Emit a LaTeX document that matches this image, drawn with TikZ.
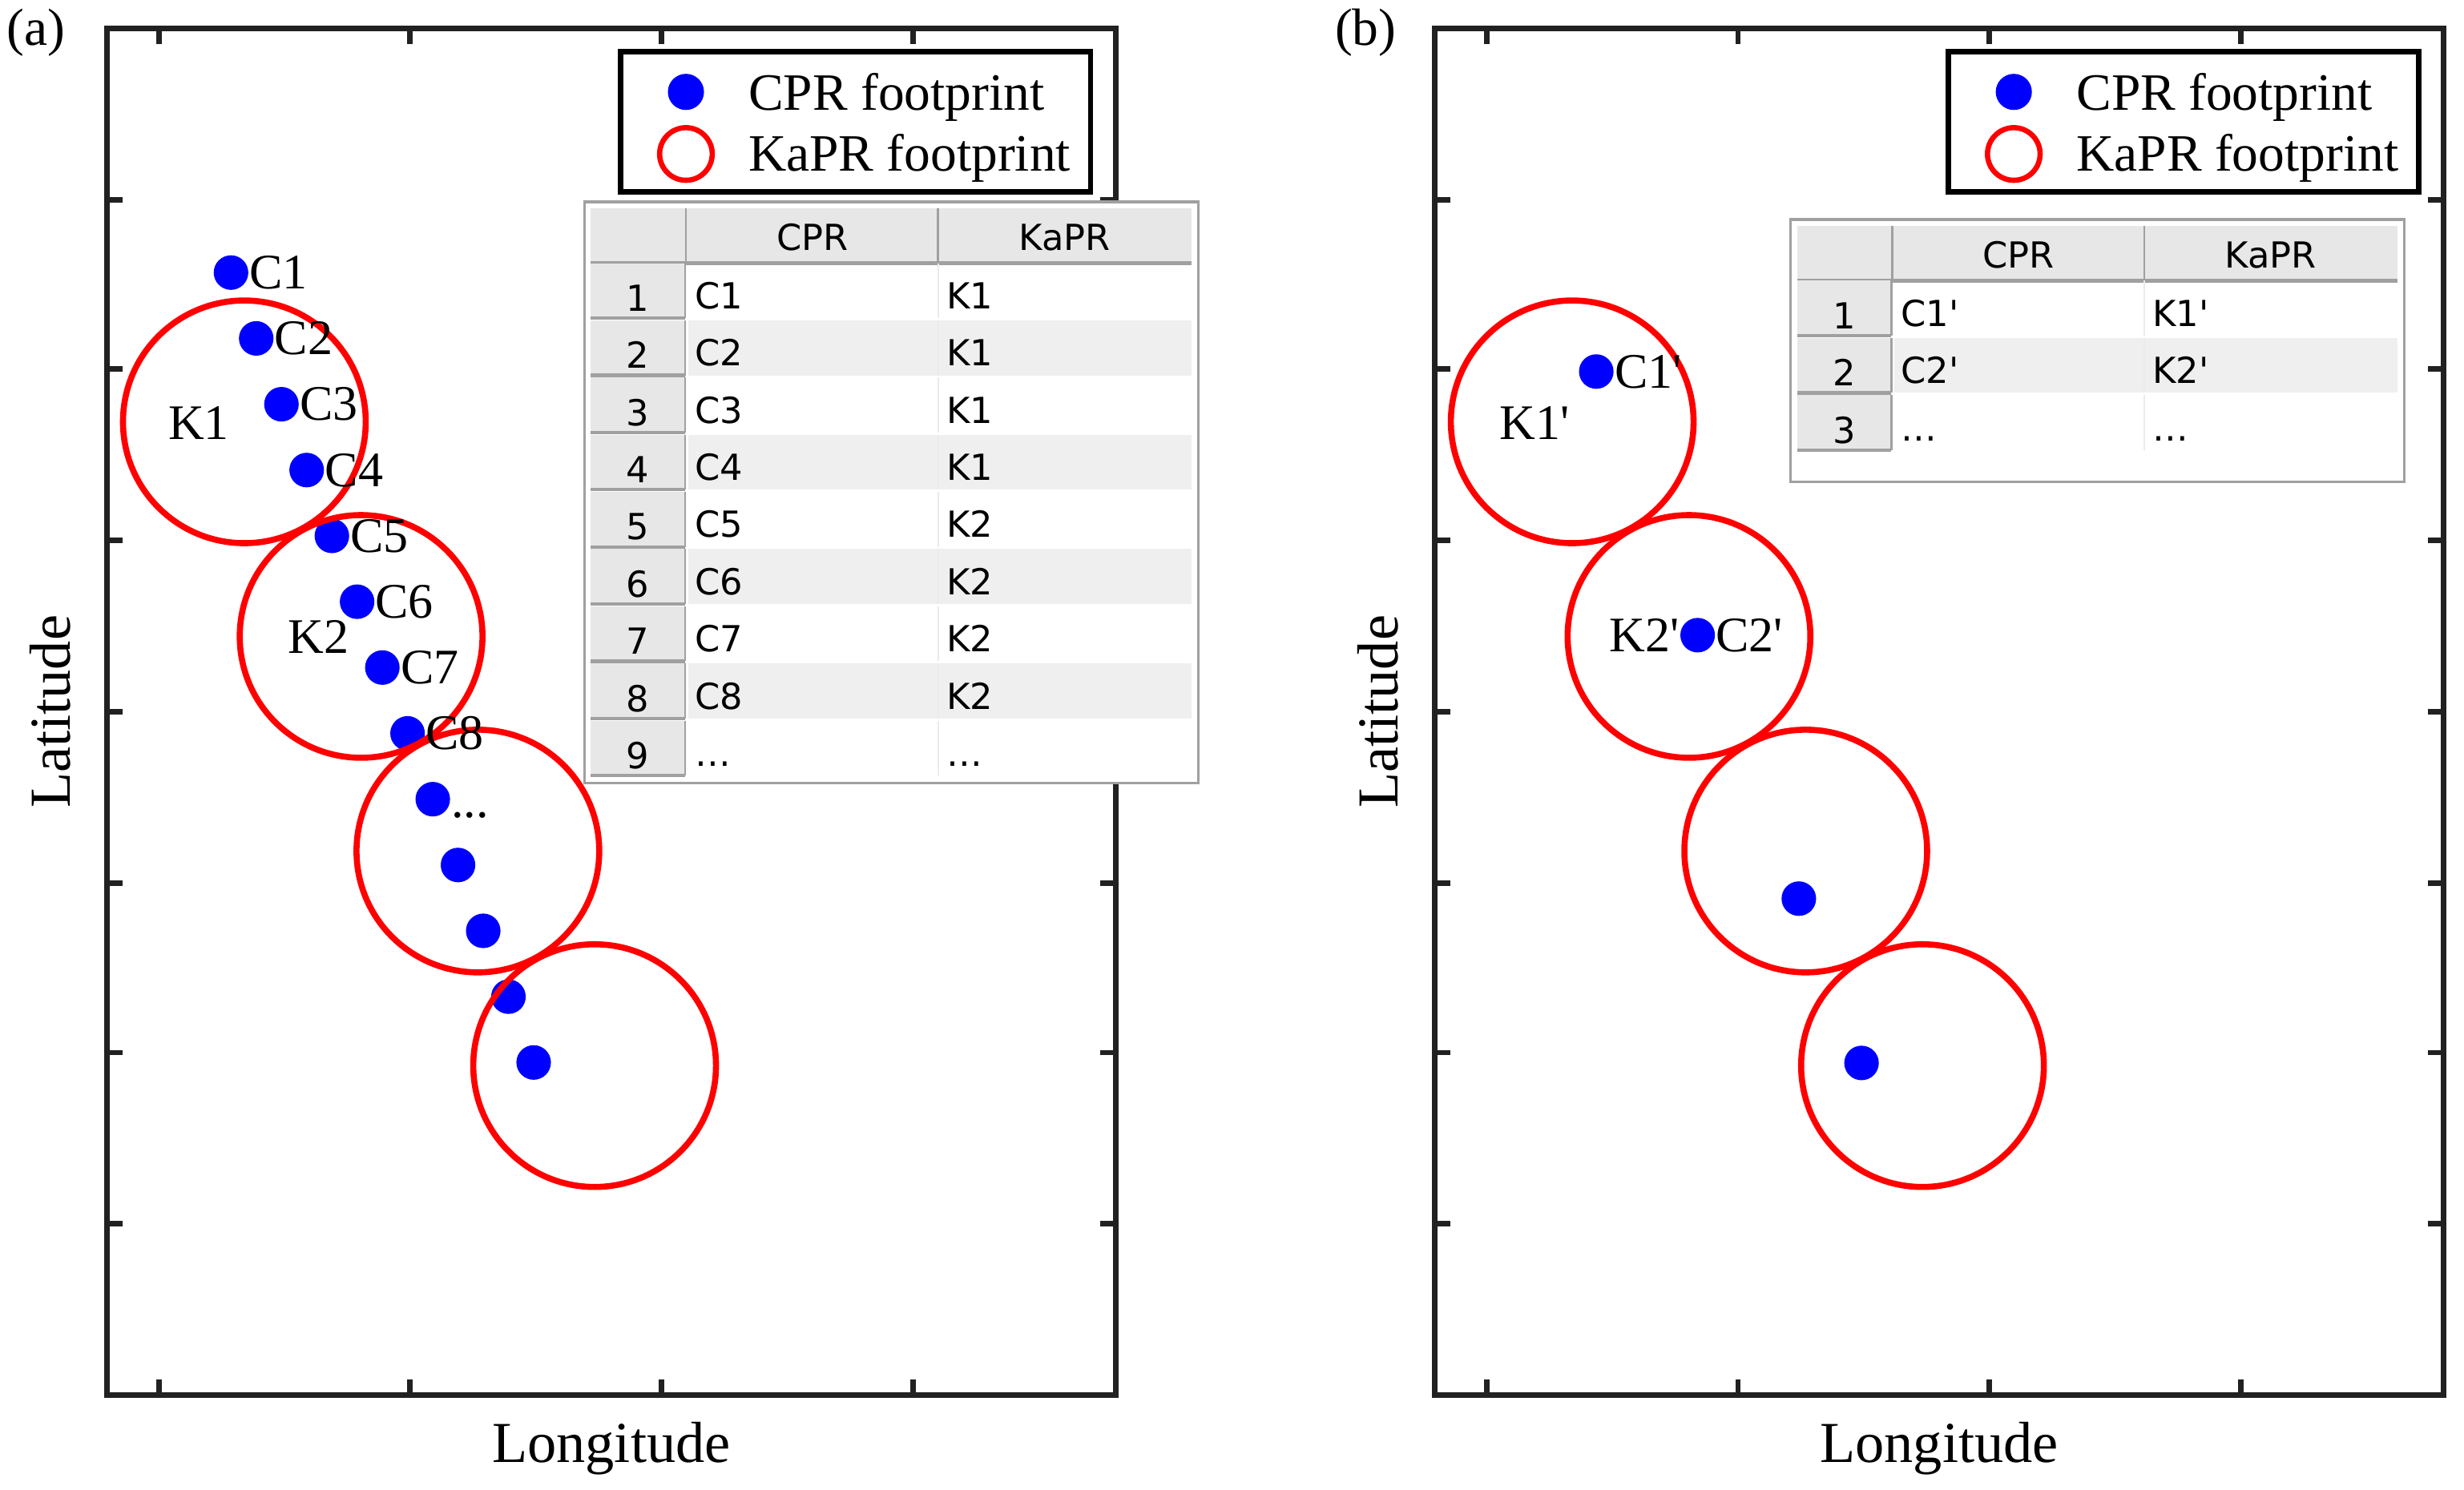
\documentclass[tikz,border=0pt]{standalone}
\usepackage{fontspec}
\setmainfont{Liberation Serif}
\newfontfamily\tabfont{DejaVu Sans}
\usetikzlibrary{positioning}
\definecolor{cellgray}{HTML}{EFEFEF}
\definecolor{headgray}{HTML}{E7E7E7}
\definecolor{rulegray}{HTML}{A0A0A0}
\tikzset{
	cpr/.style = {circle, fill=blue, inner sep=0pt, minimum size=0.44cm},% CPR footprint
	kapr/.style = {circle, draw=red, line width=2.2pt, inner sep=0pt,
		minimum size=3.09cm},% KaPR footprint
	lab/.style = {inner sep=0pt, font=\fontsize{18}{21}\selectfont},% labels in the plot
	leg_txt/.style = {inner sep=0pt, anchor=base west,
		font=\fontsize{19}{22}\selectfont},% legend entries
	ax_txt/.style = {inner sep=0pt, font=\fontsize{21}{24}\selectfont},% axis titles
	ax_frame/.style = {line width=2pt, draw=black!87},
	tab_txt/.style = {inner sep=0pt, anchor=base,
		font=\tabfont\fontsize{13}{15}\selectfont}% table cells
}

\begin{document}
\begin{tikzpicture}[x=0.02cm, y=-0.02cm]
\useasboundingbox (0,0) rectangle (1568,948);

%%% panel (a)
\node[ax_txt, font=\fontsize{19}{22}\selectfont] (pa) at (23,21) {(a)};
\draw[ax_frame] (68,18) rectangle (710,888);
\foreach \x in {101,261,421,581} {
	\draw[ax_frame] (\x,18) -- ++(0,10);
	\draw[ax_frame] (\x,888) -- ++(0,-10);
}
\foreach \y in {127,235,344,453,562,670,779} {
	\draw[ax_frame] (68,\y) -- ++(10,0);
	\draw[ax_frame] (710,\y) -- ++(-10,0);
}
\node[ax_txt, rotate=90] (lat-a) at (32,453) {Latitude};
\node[ax_txt] (lon-a) at (389,922) {Longitude};

% CPR footprints
\foreach \i in {1,...,13}
	\node[cpr] (a\i) at ({147+16.05*(\i-1)},{173.5+41.9*(\i-1)}) {};
% KaPR footprints
\foreach \i in {1,...,4}
	\node[kapr] (ka\i) at ({155.5+74.3*(\i-1)},{268.5+136.6*(\i-1)}) {};
\foreach \i in {1,...,8}
	\node[lab, right=0pt of a\i] (la\i) {C\i};
\node[lab, anchor=base west] (la9) at ([yshift=-0.234cm]a9.east) {...};
\node[lab] (lk1) at (126.5,269) {K1};
\node[lab] (lk2) at (202.5,405.5) {K2};

% legend
\draw[line width=2pt, fill=white] (395,33) rectangle (694,122);
\node[cpr, minimum size=0.46cm] (lega-dot) at (436.5,58.5) {};
\node[kapr, minimum size=0.67cm, line width=1.9pt] (lega-ring) at (436.5,98) {};
\node[leg_txt] (lega-c) at (476,70) {CPR footprint};
\node[leg_txt] (lega-k) at (476,109) {KaPR footprint};

% table
\begin{scope}[shift={(372,128.5)}]
\draw[draw=rulegray, line width=1pt, fill=white] (0,0) rectangle (390.5,370);
\fill[headgray] (4,4) rectangle (386,39.8);
\draw[rulegray, line width=1.2pt] (4,39) -- (386,39);
\draw[rulegray, line width=0.8pt] (64.5,4) -- (64.5,39) (225,4) -- (225,39);
\node[tab_txt] (ta-hc) at (145,31) {CPR};
\node[tab_txt] (ta-hk) at (305.5,31) {KaPR};
\foreach \r/\cpname/\kaname in {1/C1/K1,2/C2/K1,3/C3/K1,4/C4/K1,5/C5/K2,
		6/C6/K2,7/C7/K2,8/C8/K2,9/\ldots/\ldots} {
	\pgfmathsetmacro\yb{74+36.4*(\r-1)}
	\pgfmathsetmacro\yt{\yb-35}
	\ifodd\r \else \fill[cellgray] (66,\yt) rectangle (386,\yb); \fi
	\fill[headgray] (4,\yt) rectangle (64,\yb);
	\draw[rulegray, line width=1.2pt] (4,\yb) -- (64,\yb);
	\draw[rulegray, line width=0.8pt] (64,\yt) -- (64,\yb);
	\draw[black!8, line width=0.5pt] (225,\yt) -- (225,\yb);
	\node[tab_txt] (ta-n\r) at (34,\yb-4.5) {\r};
	\node[tab_txt, anchor=base west] (ta-c\r) at (70,\yb-6) {\cpname};
	\node[tab_txt, anchor=base west] (ta-k\r) at (230,\yb-6) {\kaname};
}
\end{scope}

%%% panel (b)
\node[ax_txt, font=\fontsize{19}{22}\selectfont] (pb) at (869,21) {(b)};
\draw[ax_frame] (913,18) rectangle (1555,888);
\foreach \x in {946,1106,1266,1426} {
	\draw[ax_frame] (\x,18) -- ++(0,10);
	\draw[ax_frame] (\x,888) -- ++(0,-10);
}
\foreach \y in {127,235,344,453,562,670,779} {
	\draw[ax_frame] (913,\y) -- ++(10,0);
	\draw[ax_frame] (1555,\y) -- ++(-10,0);
}
\node[ax_txt, rotate=90] (lat-b) at (877,453) {Latitude};
\node[ax_txt] (lon-b) at (1234,922) {Longitude};

% CPR footprints
\node[cpr] (b1) at (1015.8,236.5) {};
\node[cpr] (b2) at (1080.3,404.3) {};
\node[cpr] (b3) at (1144.7,572) {};
\node[cpr] (b4) at (1184.6,676.6) {};
% KaPR footprints
\foreach \i in {1,...,4}
	\node[kapr] (kb\i) at ({1000.5+74.3*(\i-1)},{268.5+136.6*(\i-1)}) {};
\node[lab, right=0pt of b1] (lb1) {C1\textquotesingle};
\node[lab, right=0pt of b2] (lb2) {C2\textquotesingle};
\node[lab] (lkb1) at (976.7,269) {K1\textquotesingle};
\node[lab, left=0pt of b2] (lkb2) {K2\textquotesingle};

% legend
\draw[line width=2pt, fill=white] (1240,33) rectangle (1539,122);
\node[cpr, minimum size=0.46cm] (legb-dot) at (1281.5,58.5) {};
\node[kapr, minimum size=0.67cm, line width=1.9pt] (legb-ring) at (1281.5,98) {};
\node[leg_txt] (legb-c) at (1321,70) {CPR footprint};
\node[leg_txt] (legb-k) at (1321,109) {KaPR footprint};

% table
\begin{scope}[shift={(1139.5,139.7)}]
\draw[draw=rulegray, line width=1pt, fill=white] (0,0) rectangle (390.5,167);
\fill[headgray] (4,4) rectangle (386,39.8);
\draw[rulegray, line width=1.2pt] (4,39) -- (386,39);
\draw[rulegray, line width=0.8pt] (64.5,4) -- (64.5,39) (225,4) -- (225,39);
\node[tab_txt] (tb-hc) at (145,31) {CPR};
\node[tab_txt] (tb-hk) at (305.5,31) {KaPR};
\foreach \r/\cpname/\kaname in {1/C1\textquotesingle/K1\textquotesingle,
		2/C2\textquotesingle/K2\textquotesingle,3/\ldots/\ldots} {
	\pgfmathsetmacro\yb{74+36.4*(\r-1)}
	\pgfmathsetmacro\yt{\yb-35}
	\ifodd\r \else \fill[cellgray] (66,\yt) rectangle (386,\yb); \fi
	\fill[headgray] (4,\yt) rectangle (64,\yb);
	\draw[rulegray, line width=1.2pt] (4,\yb) -- (64,\yb);
	\draw[rulegray, line width=0.8pt] (64,\yt) -- (64,\yb);
	\draw[black!8, line width=0.5pt] (225,\yt) -- (225,\yb);
	\node[tab_txt] (tb-n\r) at (34,\yb-4.5) {\r};
	\node[tab_txt, anchor=base west] (tb-c\r) at (70,\yb-6) {\cpname};
	\node[tab_txt, anchor=base west] (tb-k\r) at (230,\yb-6) {\kaname};
}
\end{scope}
\end{tikzpicture}
\end{document}
